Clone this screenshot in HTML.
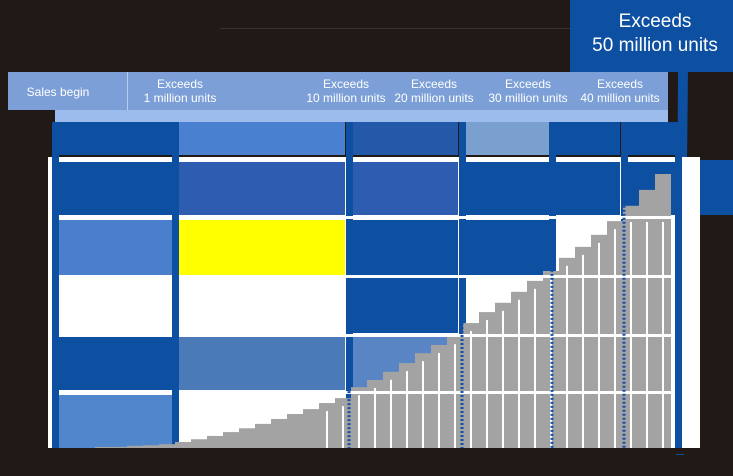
<!DOCTYPE html>
<html><head><meta charset="utf-8"><style>
body{margin:0;width:733px;height:471px;overflow:hidden;background:#211915;font-family:"Liberation Sans",sans-serif}
</style></head><body>
<svg id="c" width="733" height="471" xmlns="http://www.w3.org/2000/svg">
<rect x="0" y="0" width="733" height="471" fill="#211915"/>
<rect x="220" y="28" width="350" height="1" fill="#3a3230"/>
<rect x="570" y="0" width="163" height="72" fill="#0d4fa0"/>
<polygon points="678,70 688,70 684,455 676,455" fill="#0d4fa0"/>
<text x="655" y="27" fill="#fff" font-size="19" text-anchor="middle">Exceeds</text>
<text x="655" y="51" fill="#fff" font-size="19" text-anchor="middle">50 million units</text>
<rect x="48" y="157" width="652" height="293" fill="#fff"/>
<rect x="700" y="160" width="33" height="55" fill="#0d4fa0"/>
<g id="panels"></g>
<g id="bars"></g>
<g id="grid"></g>
<rect x="8" y="72" width="660" height="38" fill="#7b9fd6"/>
<rect x="127" y="72" width="1" height="38" fill="#b8cdee"/>
<g id="labels" fill="#fff" font-size="12" text-anchor="middle"></g>
<rect x="48" y="448" width="660" height="6" fill="#211915"/>
</svg>
<script>
const barValues=[0.2,0.2,0.4,0.5,0.7,1.1,1.6,2.2,2.9,3.6,4.4,5.3,6.2,7.1,8.2,9.1,11.1,12.4,13.9,15.5,17.3,18.8,20.4,22.8,24.8,26.5,28.5,30.5,32.3,34.7,36.7,38.9,41.4,44.2,47.1,50.0];
const milestoneLabels=[["Sales begin",""],["Exceeds","1 million units"],["Exceeds","10 million units"],["Exceeds","20 million units"],["Exceeds","30 million units"],["Exceeds","40 million units"]];
const NS="http://www.w3.org/2000/svg";
const x0=95,step=16,base=448,scale=274/50;
const xPos=i=>x0+i*step;
const yPos=v=>base-v*scale;
const gb=document.getElementById('bars');
barValues.forEach((v,i)=>{
  const r=document.createElementNS(NS,'rect');
  r.setAttribute('x',xPos(i));r.setAttribute('y',yPos(v));
  r.setAttribute('width',step);r.setAttribute('height',base-yPos(v));
  r.setAttribute('fill','#a3a3a3');
  
  
  gb.appendChild(r);
  if(v>8){
    const w=document.createElementNS(NS,'rect');
    w.setAttribute('x',xPos(i)+7);w.setAttribute('y',Math.max(yPos(v)+8,222));
    w.setAttribute('width',2);w.setAttribute('height',base-Math.max(yPos(v)+8,222));
    w.setAttribute('fill','#ffffff');
    
    
    gb.appendChild(w);
  }
});
// panels (layout)
const cols=[[55,117],[178,167],[352,106],[465,85],[555,65],[627,48]];
const rows=[[122,33],[162,53],[220,55],[278,55],[337,53],[395,53]];
const colors=[
 ["#0d4fa0","#0d4fa0","#4a7fcc","#fff","#0d4fa0","#4f86cc"],
 ["#4a80d0","#2d5cb0","#ffff00","#fff","#4a7ab8","#fff"],
 ["#2458a8","#2d5cb0","#0d4fa0","#0d4fa0","#5a85c4","#fff"],
 ["#7aa0d0","#0d4fa0","#0d4fa0","#fff","#fff","#fff"],
 ["#0d4fa0","#0d4fa0","#fff","#fff","#fff","#fff"],
 ["#0d4fa0","#0d4fa0","#fff","#fff","#fff","#fff"]];
const gp=document.getElementById('panels');
cols.forEach((c,ci)=>rows.forEach((r,ri)=>{
  const e=document.createElementNS(NS,'rect');
  e.setAttribute('x',c[0]);e.setAttribute('y',r[0]);e.setAttribute('width',c[1]);e.setAttribute('height',r[1]);
  e.setAttribute('fill',colors[ci][ri]);
  
  
  gp.appendChild(e);
}));
[52,172,346,459,549,621,675].forEach(x=>{
  const e=document.createElementNS(NS,'rect');
  e.setAttribute('x',x);e.setAttribute('y',122);e.setAttribute('width',7);e.setAttribute('height',328);
  e.setAttribute('fill','#0d4fa0');
  
  
  gp.appendChild(e);
});
const tl=document.createElementNS(NS,'rect');
tl.setAttribute('x',55);tl.setAttribute('y',110);tl.setAttribute('width',613);tl.setAttribute('height',12);tl.setAttribute('fill','#9bbcec');


gp.appendChild(tl);
const gg=document.getElementById('grid');
[216,275,334,391].forEach(y=>{
  const e=document.createElementNS(NS,'rect');
  e.setAttribute('x',346);e.setAttribute('y',y);e.setAttribute('width',329);e.setAttribute('height',3);
  e.setAttribute('fill','#ffffff');
  
  
  gg.appendChild(e);
});
[349,462,552,624].forEach(x=>{
  const e=document.createElementNS(NS,'line');
  e.setAttribute('x1',x);e.setAttribute('x2',x);e.setAttribute('y1',yPos(barValues[Math.round((x-x0)/step)]||0));e.setAttribute('y2',448);
  e.setAttribute('stroke','#1550a8');e.setAttribute('stroke-width','3');e.setAttribute('stroke-dasharray','2 2');
  
  
  gg.appendChild(e);
});
const lx=[58,180,346,434,528,620];
const gl=document.getElementById('labels');
milestoneLabels.forEach((l,i)=>{
  const t=document.createElementNS(NS,'text');
  t.setAttribute('x',lx[i]);
  if(l[1]===""){t.setAttribute('y',96);t.textContent=l[0];}
  else{
    t.setAttribute('y',88);
    const a=document.createElementNS(NS,'tspan');a.textContent=l[0];t.appendChild(a);
    const b=document.createElementNS(NS,'tspan');b.setAttribute('x',lx[i]);b.setAttribute('dy',14);b.textContent=l[1];t.appendChild(b);
  }
  
  
  gl.appendChild(t);
});
</script>
</body></html>
